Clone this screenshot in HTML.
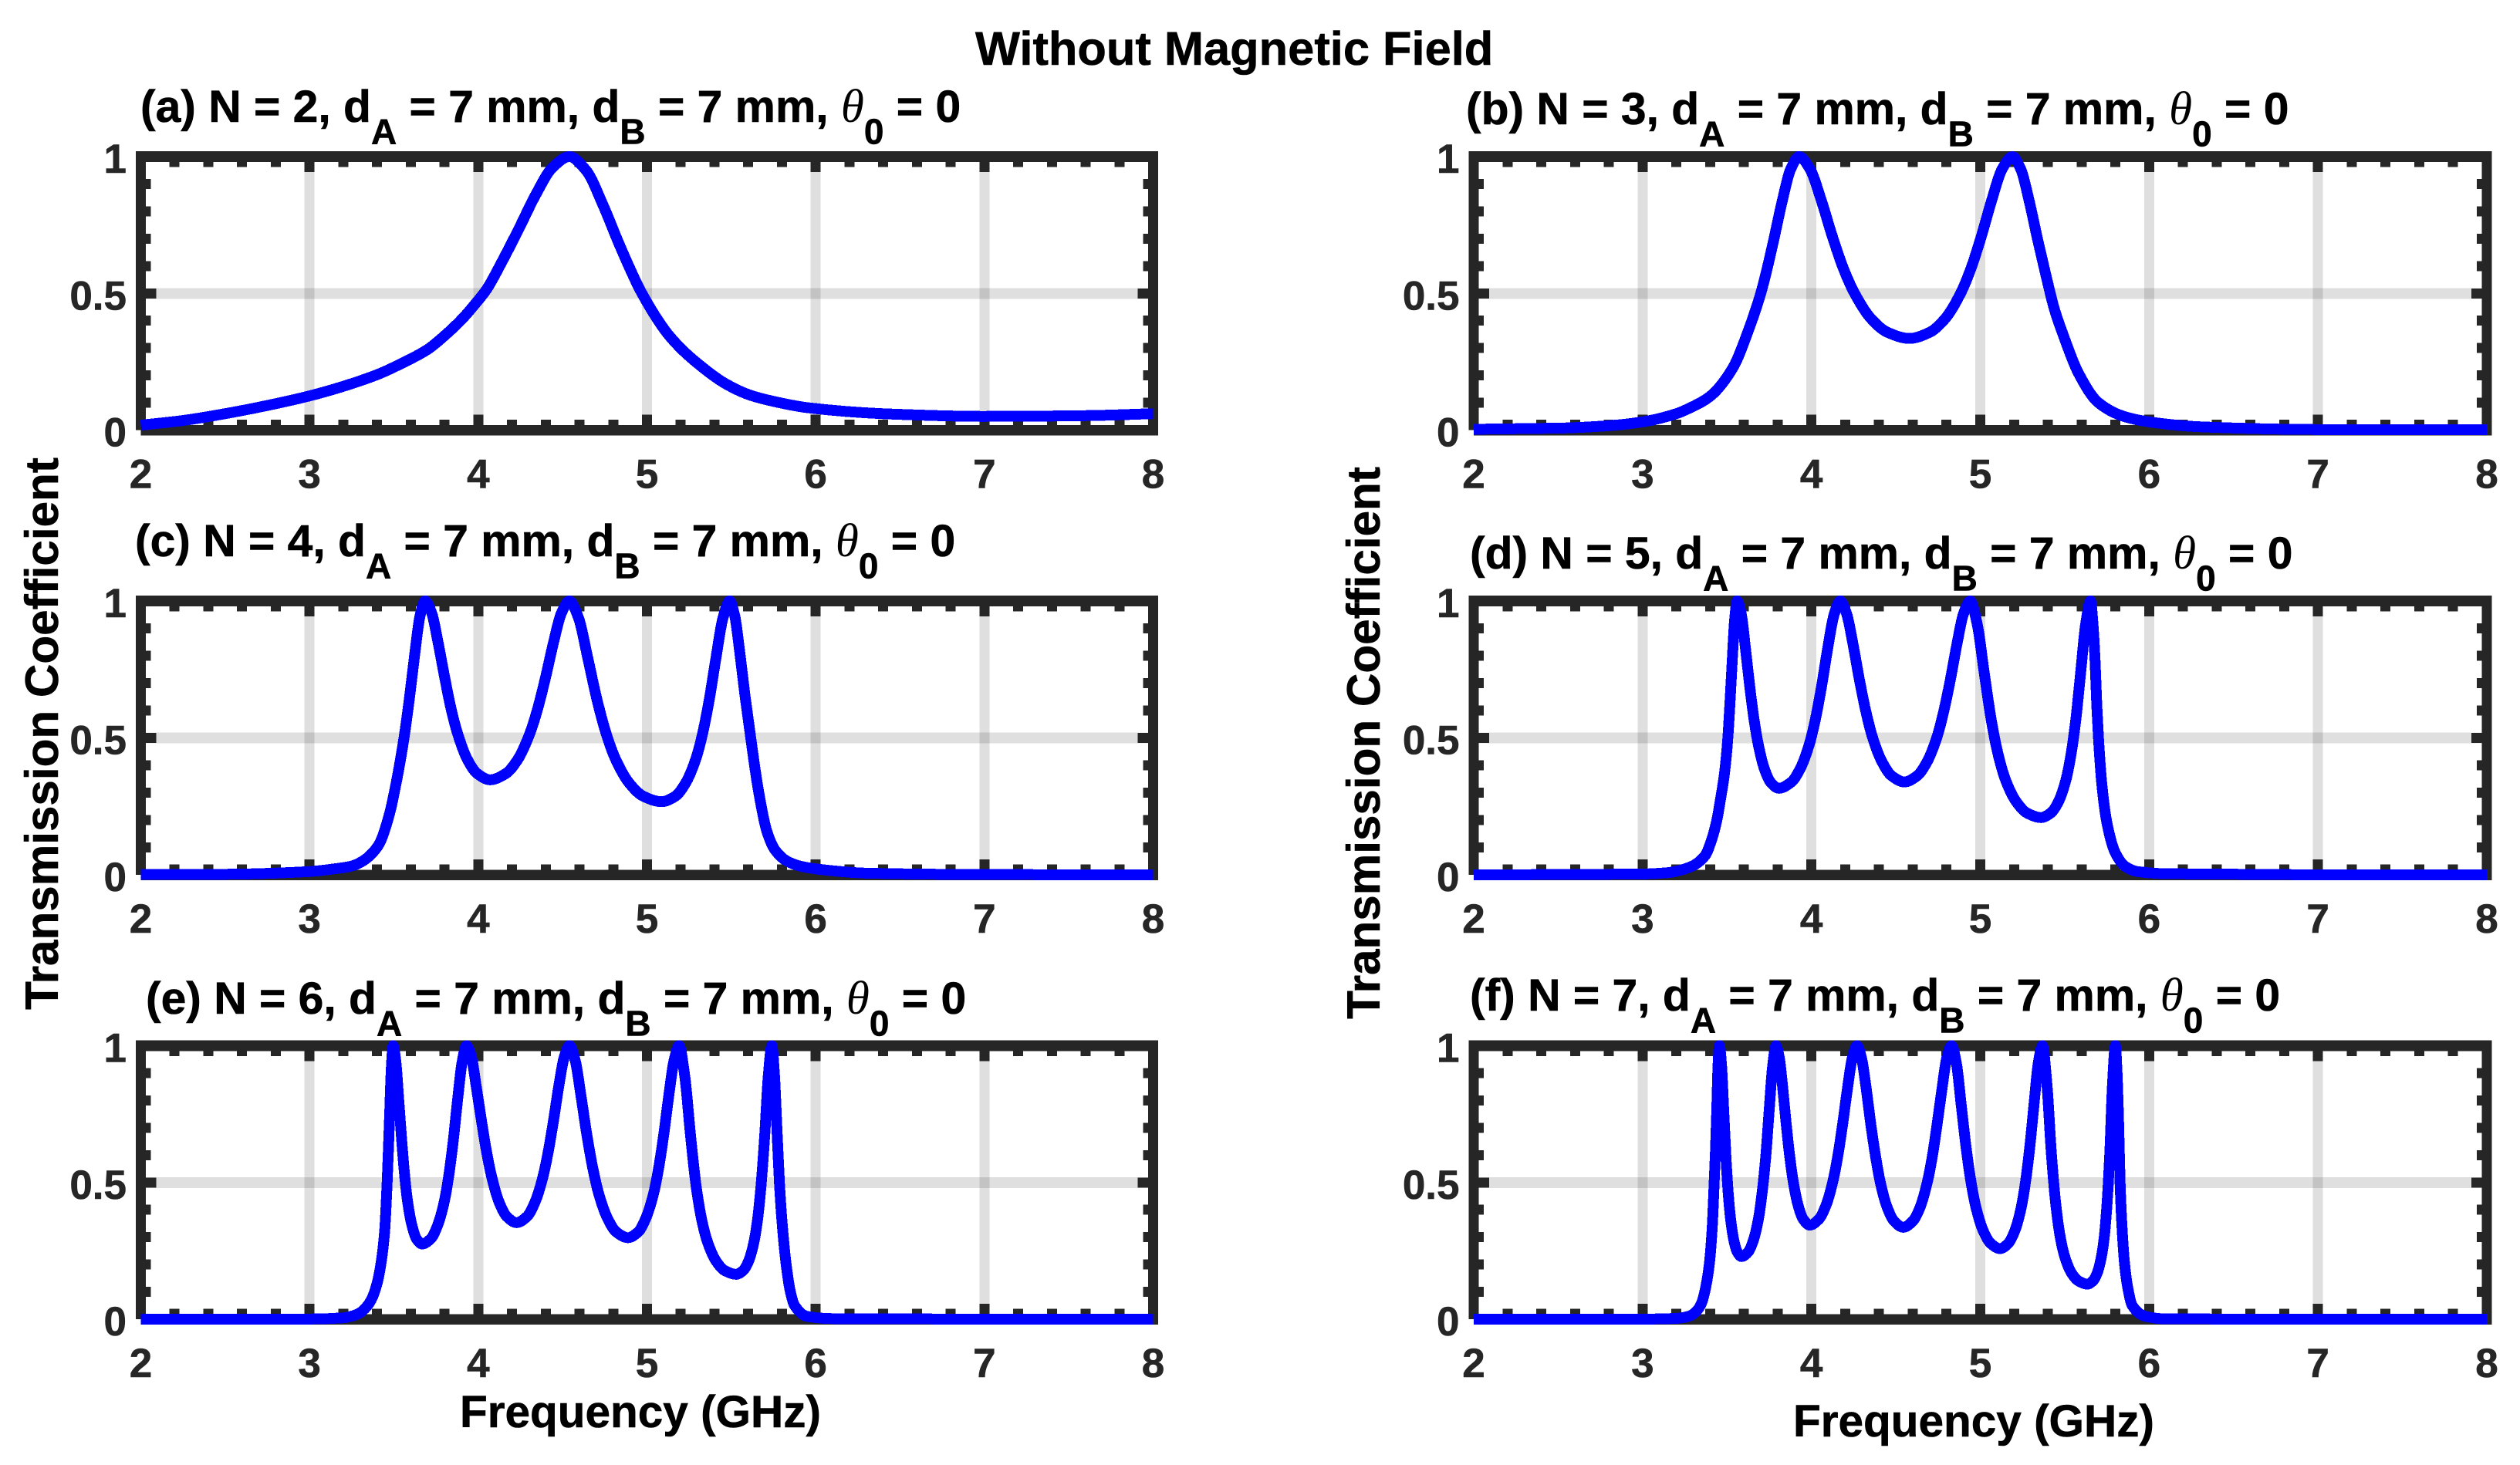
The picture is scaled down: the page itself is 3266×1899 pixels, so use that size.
<!DOCTYPE html>
<html lang="en">
<head>
<meta charset="utf-8">
<title>Without Magnetic Field</title>
<style>
  html, body { margin: 0; padding: 0; background: #fff; }
  svg { display: block; }
  text { font-family: "Liberation Sans", Arial, sans-serif; font-weight: bold; white-space: pre; }
  .fig-title { font-size: 61.4px; fill: #000; stroke: #000; stroke-width: .6px; }
  .panel-title { font-size: 58.8px; fill: #000; stroke: #000; stroke-width: .6px; }
  .sub { font-size: 46px; }
  .theta { font-family: "Liberation Serif", serif; font-style: italic; font-weight: normal; font-size: 61px; stroke-width: 0; }
  .axis-title { font-size: 60.2px; fill: #000; stroke: #000; stroke-width: .6px; }
  .tick-label { font-size: 53px; fill: #262626; stroke: #262626; stroke-width: .6px; }
</style>
</head>
<body>
<svg id="figure" xmlns="http://www.w3.org/2000/svg" width="3266" height="1899" viewBox="0 0 3266 1899">
  <rect x="0" y="0" width="3266" height="1899" fill="#fff"/>
  <g id="plots"></g>

  <text class="fig-title" x="1264" y="84">Without Magnetic Field</text>

  <text class="panel-title" x="182" y="158">(a) N = 2, d<tspan class="sub" dy="28.5">A</tspan><tspan dy="-28.5"> = 7 mm, d</tspan><tspan class="sub" dy="28.5">B</tspan><tspan dy="-28.5"> = 7 mm, </tspan><tspan class="theta">θ</tspan><tspan class="sub" dy="28.5">0</tspan><tspan dy="-28.5"> = 0</tspan></text>
  <text class="panel-title" x="1900" y="161">(b) N = 3, d<tspan class="sub" dy="28.5">A</tspan><tspan dy="-28.5"> = 7 mm, d</tspan><tspan class="sub" dy="28.5">B</tspan><tspan dy="-28.5"> = 7 mm, </tspan><tspan class="theta">θ</tspan><tspan class="sub" dy="28.5">0</tspan><tspan dy="-28.5"> = 0</tspan></text>
  <text class="panel-title" x="175" y="721">(c) N = 4, d<tspan class="sub" dy="28.5">A</tspan><tspan dy="-28.5"> = 7 mm, d</tspan><tspan class="sub" dy="28.5">B</tspan><tspan dy="-28.5"> = 7 mm, </tspan><tspan class="theta">θ</tspan><tspan class="sub" dy="28.5">0</tspan><tspan dy="-28.5"> = 0</tspan></text>
  <text class="panel-title" x="1905" y="737">(d) N = 5, d<tspan class="sub" dy="28.5">A</tspan><tspan dy="-28.5"> = 7 mm, d</tspan><tspan class="sub" dy="28.5">B</tspan><tspan dy="-28.5"> = 7 mm, </tspan><tspan class="theta">θ</tspan><tspan class="sub" dy="28.5">0</tspan><tspan dy="-28.5"> = 0</tspan></text>
  <text class="panel-title" x="189" y="1314">(e) N = 6, d<tspan class="sub" dy="28.5">A</tspan><tspan dy="-28.5"> = 7 mm, d</tspan><tspan class="sub" dy="28.5">B</tspan><tspan dy="-28.5"> = 7 mm, </tspan><tspan class="theta">θ</tspan><tspan class="sub" dy="28.5">0</tspan><tspan dy="-28.5"> = 0</tspan></text>
  <text class="panel-title" x="1905" y="1310">(f) N = 7, d<tspan class="sub" dy="28.5">A</tspan><tspan dy="-28.5"> = 7 mm, d</tspan><tspan class="sub" dy="28.5">B</tspan><tspan dy="-28.5"> = 7 mm, </tspan><tspan class="theta">θ</tspan><tspan class="sub" dy="28.5">0</tspan><tspan dy="-28.5"> = 0</tspan></text>

  <text class="axis-title" text-anchor="middle" transform="translate(75 951) rotate(-90)">Transmission Coefficient</text>
  <text class="axis-title" text-anchor="middle" transform="translate(1788 963) rotate(-90)">Transmission Coefficient</text>
  <text class="axis-title" text-anchor="middle" x="830" y="1850" style="font-size:58.5px">Frequency (GHz)</text>
  <text class="axis-title" text-anchor="middle" x="2558" y="1862" style="font-size:58.5px">Frequency (GHz)</text>
</svg>

<script>
const xTickLabels = [2, 3, 4, 5, 6, 7, 8];
const yTickLabels = [0, 0.5, 1];
const xMinorTicks = [2.2, 2.4, 2.6, 2.8, 3.2, 3.4, 3.6, 3.8, 4.2, 4.4, 4.6, 4.8, 5.2, 5.4, 5.6, 5.8, 6.2, 6.4, 6.6, 6.8, 7.2, 7.4, 7.6, 7.8];
const yMinorTicks = [0.1, 0.2, 0.3, 0.4, 0.6, 0.7, 0.8, 0.9];

const freqA = [2, 2.25, 2.5, 2.75, 3, 3.2, 3.41, 3.55, 3.7, 3.8, 3.91, 3.98, 4.05, 4.14, 4.24, 4.34, 4.44, 4.54, 4.64, 4.74, 4.84, 4.97, 5.14, 5.34, 5.47, 5.61, 5.75, 5.95, 6.43, 7, 7.62, 8];
const transA = [0.018, 0.035, 0.06, 0.09, 0.125, 0.16, 0.205, 0.245, 0.295, 0.345, 0.41, 0.46, 0.515, 0.615, 0.735, 0.86, 0.96, 1, 0.949, 0.822, 0.673, 0.5, 0.339, 0.224, 0.168, 0.128, 0.105, 0.082, 0.059, 0.05, 0.053, 0.06];

const freqB = [2, 2.5, 2.8, 3, 3.2, 3.277, 3.397, 3.537, 3.627, 3.7, 3.727, 3.777, 3.827, 3.877, 3.927, 3.992, 4.058, 4.123, 4.188, 4.254, 4.351, 4.449, 4.58, 4.702, 4.794, 4.885, 4.946, 5.007, 5.068, 5.129, 5.19, 5.24, 5.29, 5.34, 5.39, 5.44, 5.49, 5.58, 5.7, 5.85, 6, 6.3, 7, 8];
const transB = [0.003, 0.007, 0.016, 0.03, 0.06, 0.08, 0.122, 0.23, 0.365, 0.5, 0.563, 0.696, 0.837, 0.954, 1, 0.954, 0.841, 0.71, 0.593, 0.502, 0.409, 0.358, 0.335, 0.358, 0.409, 0.502, 0.593, 0.71, 0.841, 0.954, 1, 0.954, 0.837, 0.696, 0.563, 0.44, 0.35, 0.21, 0.1, 0.05, 0.03, 0.012, 0.002, 0.001];

const freqC = [
  2, 2.5, 3, 3.15, 3.25, 3.32, 3.37, 3.415, 3.475, 3.515, 3.56, 3.595, 3.625, 3.655, 3.685,
  3.724, 3.762, 3.801, 3.839, 3.878, 3.935, 3.993, 4.07,
  4.164, 4.235, 4.305, 4.352, 4.399, 4.446, 4.493, 4.54,
  4.595, 4.649, 4.704, 4.759, 4.814, 4.896, 4.978, 5.087,
  5.168, 5.228, 5.289, 5.329, 5.369, 5.409, 5.45, 5.49,
  5.52, 5.55, 5.58, 5.615, 5.66, 5.71, 5.76, 5.83, 5.92, 6.05, 6.3, 7, 8
];
const transC = [
  0.001, 0.002, 0.012, 0.022, 0.032, 0.052, 0.078, 0.115, 0.225, 0.34, 0.5, 0.659, 0.813, 0.946, 1,
  0.956, 0.848, 0.721, 0.606, 0.515, 0.422, 0.37, 0.347,
  0.37, 0.422, 0.515, 0.606, 0.721, 0.848, 0.956, 1,
  0.937, 0.792, 0.639, 0.514, 0.422, 0.334, 0.287, 0.267,
  0.287, 0.334, 0.422, 0.514, 0.639, 0.792, 0.937, 1,
  0.946, 0.813, 0.659, 0.5, 0.31, 0.16, 0.09, 0.05, 0.03, 0.018, 0.006, 0.001, 0
];

const freqD = [
  2, 3, 3.15, 3.28, 3.37, 3.41, 3.44, 3.46, 3.485, 3.505, 3.515, 3.53, 3.545, 3.56,
  3.585, 3.609, 3.634, 3.659, 3.684, 3.721, 3.758, 3.807,
  3.88, 3.934, 3.989, 4.025, 4.061, 4.097, 4.134, 4.17,
  4.208, 4.246, 4.284, 4.322, 4.36, 4.417, 4.474, 4.55,
  4.627, 4.686, 4.745, 4.784, 4.823, 4.862, 4.901, 4.94,
  4.982, 5.024, 5.066, 5.108, 5.15, 5.213, 5.276, 5.36,
  5.418, 5.463, 5.507, 5.536, 5.565, 5.594, 5.624, 5.653,
  5.668, 5.68, 5.69, 5.7, 5.72, 5.75, 5.8, 5.86, 5.93, 6.1, 7, 8
];
const transD = [
  0, 0.003, 0.008, 0.028, 0.07, 0.13, 0.2, 0.27, 0.37, 0.5, 0.6, 0.77, 0.93, 1,
  0.95, 0.829, 0.692, 0.572, 0.48, 0.388, 0.338, 0.316,
  0.338, 0.388, 0.48, 0.572, 0.692, 0.829, 0.95, 1,
  0.954, 0.843, 0.713, 0.598, 0.506, 0.414, 0.362, 0.339,
  0.362, 0.414, 0.506, 0.598, 0.713, 0.843, 0.954, 1,
  0.915, 0.735, 0.562, 0.434, 0.346, 0.267, 0.226, 0.209,
  0.226, 0.267, 0.346, 0.434, 0.562, 0.735, 0.915, 1,
  0.91, 0.78, 0.62, 0.5, 0.33, 0.19, 0.08, 0.03, 0.012, 0.004, 0, 0
];

const freqE = [
  2, 3, 3.2, 3.29, 3.33, 3.365, 3.4, 3.425, 3.445, 3.46, 3.468, 3.475, 3.485, 3.495,
  3.512, 3.529, 3.547, 3.564, 3.581, 3.607, 3.633, 3.667,
  3.72, 3.759, 3.799, 3.825, 3.851, 3.877, 3.904, 3.93,
  3.96, 3.988, 4.019, 4.049, 4.079, 4.123, 4.168, 4.227,
  4.29, 4.337, 4.384, 4.415, 4.446, 4.477, 4.509, 4.54,
  4.575, 4.609, 4.644, 4.679, 4.714, 4.766, 4.818, 4.887,
  4.948, 4.993, 5.039, 5.069, 5.099, 5.129, 5.16, 5.19,
  5.224, 5.258, 5.291, 5.325, 5.359, 5.41, 5.46, 5.528,
  5.57, 5.602, 5.634, 5.655, 5.676, 5.698, 5.719, 5.74,
  5.755, 5.77, 5.785, 5.8, 5.825, 5.85, 5.875, 5.95, 6.1, 7, 8
];
const transE = [
  0, 0.0005, 0.005, 0.02, 0.04, 0.07, 0.13, 0.21, 0.32, 0.5, 0.63, 0.75, 0.92, 1,
  0.939, 0.799, 0.648, 0.524, 0.431, 0.343, 0.295, 0.275,
  0.295, 0.343, 0.431, 0.524, 0.648, 0.799, 0.939, 1,
  0.957, 0.851, 0.726, 0.613, 0.522, 0.429, 0.376, 0.353,
  0.376, 0.429, 0.522, 0.613, 0.726, 0.851, 0.957, 1,
  0.945, 0.816, 0.673, 0.552, 0.459, 0.369, 0.319, 0.298,
  0.319, 0.369, 0.459, 0.552, 0.673, 0.816, 0.945, 1,
  0.889, 0.673, 0.488, 0.362, 0.282, 0.212, 0.178, 0.164,
  0.178, 0.212, 0.282, 0.362, 0.488, 0.673, 0.889, 1,
  0.9, 0.7, 0.5, 0.36, 0.2, 0.1, 0.05, 0.01, 0.002, 0, 0
];

const freqF = [
  2, 3, 3.2, 3.28, 3.32, 3.35, 3.375, 3.395, 3.412, 3.424, 3.432, 3.44, 3.447, 3.455,
  3.468, 3.481, 3.494, 3.507, 3.52, 3.54, 3.56, 3.586,
  3.627, 3.657, 3.688, 3.708, 3.729, 3.749, 3.77, 3.79,
  3.81, 3.83, 3.85, 3.87, 3.89, 3.92, 3.95, 3.99,
  4.046, 4.088, 4.13, 4.158, 4.186, 4.214, 4.242, 4.27,
  4.297, 4.325, 4.352, 4.38, 4.407, 4.448, 4.489, 4.544,
  4.601, 4.644, 4.687, 4.716, 4.744, 4.773, 4.801, 4.83,
  4.859, 4.887, 4.916, 4.945, 4.974, 5.017, 5.06, 5.117,
  5.167, 5.205, 5.243, 5.268, 5.293, 5.318, 5.343, 5.368,
  5.395, 5.421, 5.448, 5.474, 5.501, 5.541, 5.581, 5.634,
  5.667, 5.692, 5.717, 5.734, 5.75, 5.767, 5.783, 5.8,
  5.81, 5.818, 5.828, 5.84, 5.855, 5.875, 5.9, 5.98, 6.1, 7, 8
];
const transF = [
  0, 0.0003, 0.003, 0.012, 0.03, 0.06, 0.12, 0.2, 0.33, 0.5, 0.62, 0.78, 0.93, 1,
  0.924, 0.757, 0.59, 0.463, 0.373, 0.29, 0.247, 0.229,
  0.247, 0.29, 0.373, 0.463, 0.59, 0.757, 0.924, 1,
  0.955, 0.846, 0.718, 0.603, 0.512, 0.419, 0.367, 0.344,
  0.367, 0.419, 0.512, 0.603, 0.718, 0.846, 0.955, 1,
  0.954, 0.841, 0.711, 0.595, 0.503, 0.41, 0.359, 0.336,
  0.359, 0.41, 0.503, 0.595, 0.711, 0.841, 0.954, 1,
  0.934, 0.784, 0.628, 0.502, 0.41, 0.324, 0.278, 0.258,
  0.278, 0.324, 0.41, 0.502, 0.628, 0.784, 0.934, 1,
  0.857, 0.606, 0.416, 0.299, 0.227, 0.168, 0.14, 0.128,
  0.14, 0.168, 0.227, 0.299, 0.416, 0.606, 0.857, 1,
  0.9, 0.75, 0.5, 0.33, 0.2, 0.11, 0.05, 0.01, 0.001, 0, 0
];

const panelIds = ['a', 'b', 'c', 'd', 'e', 'f'];
const panelFreqs = [freqA, freqB, freqC, freqD, freqE, freqF];
const panelTrans = [transA, transB, transC, transD, transE, transF];

const SVG_NS = 'http://www.w3.org/2000/svg';
const AXIS_COLOR = '#262626';
const GRID_COLOR = 'rgba(38,38,38,0.15)';
const LINE_COLOR = '#0000ff';

function monotonePath(xs, ys) {
  const n = xs.length;
  const dx = [], sl = [], m = new Array(n);
  for (let i = 0; i < n - 1; i++) {
    dx[i] = xs[i + 1] - xs[i];
    sl[i] = (ys[i + 1] - ys[i]) / dx[i];
  }
  m[0] = sl[0];
  m[n - 1] = sl[n - 2];
  for (let i = 1; i < n - 1; i++) {
    if (sl[i - 1] * sl[i] <= 0) {
      m[i] = 0;
    } else {
      const w1 = 2 * dx[i] + dx[i - 1];
      const w2 = dx[i] + 2 * dx[i - 1];
      m[i] = (w1 + w2) / (w1 / sl[i - 1] + w2 / sl[i]);
    }
  }
  let d = 'M' + xs[0].toFixed(2) + ' ' + ys[0].toFixed(2);
  for (let i = 0; i < n - 1; i++) {
    const h = dx[i] / 3;
    d += 'C' + (xs[i] + h).toFixed(2) + ' ' + (ys[i] + m[i] * h).toFixed(2) + ' ' +
      (xs[i + 1] - h).toFixed(2) + ' ' + (ys[i + 1] - m[i + 1] * h).toFixed(2) + ' ' +
      xs[i + 1].toFixed(2) + ' ' + ys[i + 1].toFixed(2);
  }
  return d;
}

function drawPanel(root, id, left, right, top, bottom, freqs, trans) {
  const xScale = f => left + (f - 2) * (right - left) / 6;
  const yScale = t => bottom - t * (bottom - top);

  const group = document.createElementNS(SVG_NS, 'g');
  
  
  root.appendChild(group);

  function box(x, y, w, h, fill) {
    const r = document.createElementNS(SVG_NS, 'rect');
    r.setAttribute('x', x);
    r.setAttribute('y', y);
    r.setAttribute('width', w);
    r.setAttribute('height', h);
    r.setAttribute('fill', fill);
    r.setAttribute('shape-rendering', 'crispEdges');
    group.appendChild(r);
    return r;
  }

  // vertical grid
  xTickLabels.slice(1, -1).forEach(v => {
    const el = box(xScale(v) - 6.5, top, 13, bottom - top, GRID_COLOR);
    
    
  });
  // horizontal grid
  yTickLabels.slice(1, -1).forEach(v => {
    const el = box(left, yScale(v) - 7, right - left, 14, GRID_COLOR);
    
    
  });

  // spines
  const spineTop = box(left - 6.5, top - 7, right - left + 13, 14, AXIS_COLOR);
  
  
  const spineBottom = box(left, bottom - 6.5, right - left + 6.5, 13.5, AXIS_COLOR);
  
  
  const spineLeft = box(left - 6.5, top - 7, 13, bottom - top + 7, AXIS_COLOR);
  
  
  const spineRight = box(right - 6.5, top - 7, 13, bottom - top + 14, AXIS_COLOR);
  
  

  // x ticks on top and bottom
  function xTick(v, len) {
    const a = box(xScale(v) - 6.5, top, 13, len, AXIS_COLOR);
    
    
    const b = box(xScale(v) - 6.5, bottom - len, 13, len, AXIS_COLOR);
    
    
  }
  xMinorTicks.forEach(v => xTick(v, 13.7));
  xTickLabels.slice(1, -1).forEach(v => xTick(v, 20));

  // y ticks on left and right
  function yTick(v, len) {
    const a = box(left, yScale(v) - 6.5, len, 13, AXIS_COLOR);
    
    
    const b = box(right - len, yScale(v) - 6.5, len, 13, AXIS_COLOR);
    
    
  }
  yMinorTicks.forEach(v => yTick(v, 13));
  yTickLabels.slice(1, -1).forEach(v => yTick(v, 20));

  // tick labels
  xTickLabels.forEach(v => {
    const t = document.createElementNS(SVG_NS, 'text');
    t.setAttribute('class', 'tick-label');
    t.setAttribute('x', xScale(v));
    t.setAttribute('y', bottom + 75);
    t.setAttribute('text-anchor', 'middle');
    
    
    t.textContent = String(v);
    group.appendChild(t);
  });
  yTickLabels.forEach(v => {
    const t = document.createElementNS(SVG_NS, 'text');
    t.setAttribute('class', 'tick-label');
    t.setAttribute('x', left - 18.5);
    t.setAttribute('y', yScale(v) + 21);
    t.setAttribute('text-anchor', 'end');
    
    
    t.textContent = String(v);
    group.appendChild(t);
  });

  // series
  const line = document.createElementNS(SVG_NS, 'path');
  line.setAttribute('d', monotonePath(freqs.map(xScale), trans.map(yScale)));
  line.setAttribute('fill', 'none');
  line.setAttribute('stroke', LINE_COLOR);
  line.setAttribute('stroke-width', '14');
  line.setAttribute('stroke-linejoin', 'round');
  line.setAttribute('shape-rendering', 'crispEdges');
  
  
  group.appendChild(line);
}

const plotsRoot = document.getElementById('plots');
const panelFrames = [
  [182.5, 1494.5, 203, 557.5],
  [1910, 3223, 203, 557.5],
  [182.5, 1494.5, 779, 1134],
  [1910, 3223, 779, 1134],
  [182.5, 1494.5, 1355.5, 1710],
  [1910, 3223, 1355.5, 1710]
];
panelIds.forEach((id, i) => {
  const fr = panelFrames[i];
  drawPanel(plotsRoot, id, fr[0], fr[1], fr[2], fr[3], panelFreqs[i], panelTrans[i]);
});
</script>
</body>
</html>
